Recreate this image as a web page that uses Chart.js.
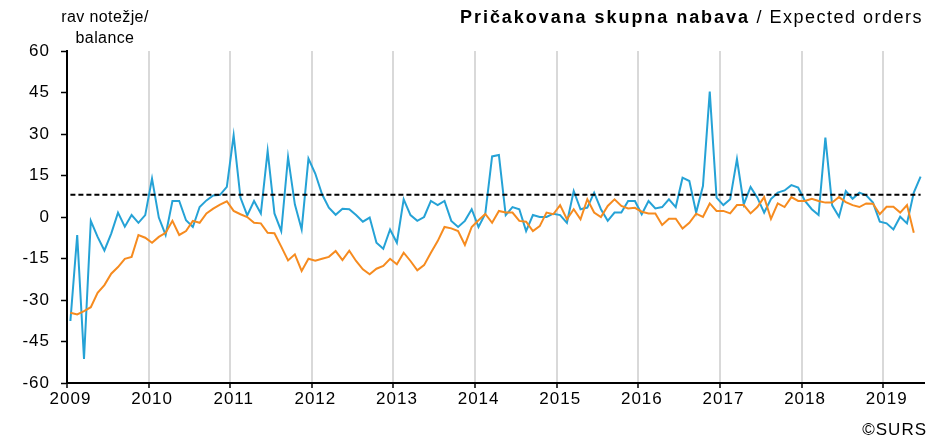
<!DOCTYPE html>
<html>
<head>
<meta charset="utf-8">
<script src="https://cdn.jsdelivr.net/npm/chart.js@4/dist/chart.umd.min.js"></script>
<style>
html,body{margin:0;padding:0;background:#fff;}
#wrap{position:relative;width:944px;height:442px;font-family:"Liberation Sans",Arial,sans-serif;color:#000;overflow:hidden;}
canvas{position:absolute;left:0;top:0;}
.t{position:absolute;white-space:nowrap;}
</style>
</head>
<body>
<div id="wrap">
<canvas id="c" width="944" height="442"></canvas>
<div class="t" id="ytitle" style="left:55px;top:6px;width:100px;text-align:center;font-size:16px;line-height:21px;letter-spacing:0.4px;">rav notežje/<br>balance</div>
<div class="t" id="title" style="right:21px;top:7px;font-size:18px;line-height:20px;letter-spacing:1.5px;"><b style="letter-spacing:1.95px;">Pričakovana skupna nabava</b> / Expected orders</div>
<div class="t" id="copy" style="right:17px;top:420px;font-size:17px;line-height:20px;letter-spacing:1px;">©SURS</div>
</div>
<script>
// x-axis tick labels (one per year, monthly data Jan 2009 – Jun 2019)
const yearLabels = ['2009','2010','2011','2012','2013','2014','2015','2016','2017','2018','2019'];
// y-axis tick values
const yTickValues = [60, 45, 30, 15, 0, -15, -30, -45, -60];
// Expected orders, original series (Jan 2009 – Jun 2019)
const expectedOrders = [
  -37.6, -6.5, -51.3, -1.4, -7.2, -12.1, -6.0, 1.6, -3.5, 0.7, -2.1, 0.7,
  13.9, -0.2, -6.5, 5.8, 5.8, -1.2, -3.6, 3.6, 6.0, 7.8, 8.0, 10.9,
  29.5, 7.0, 0.6, 5.8, 1.3, 23.9, 1.3, -5.1, 21.7, 4.6, -4.5, 21.1,
  15.7, 8.2, 3.4, 0.8, 3.0, 2.8, 0.7, -1.7, -0.2, -9.3, -11.5, -4.5,
  -9.3, 6.4, 0.7, -1.4, 0.0, 5.8, 4.3, 5.8, -1.4, -3.6, -1.4, 2.8,
  -3.6, 1.2, 21.9, 22.4, 0.7, 3.6, 2.8, -5.1, 0.7, 0.0, 0.0, 1.2,
  0.7, -2.1, 9.4, 2.8, 3.4, 8.8, 2.8, -1.4, 1.6, 1.6, 5.8, 5.8,
  1.0, 5.8, 3.1, 3.6, 6.4, 3.6, 14.2, 13.0, 1.6, 11.2, 45.3, 7.0,
  4.3, 6.4, 20.9, 4.6, 10.9, 7.0, 1.6, 6.5, 8.8, 9.6, 11.5, 10.6,
  5.8, 2.8, 0.7, 28.7, 4.2, 0.1, 9.4, 6.6, 8.8, 7.8, 5.2, -1.7,
  -2.3, -4.5, 0.1, -2.3, 8.8, 14.6
];
// Expected orders, seasonally adjusted series (Jan 2009 – May 2019)
const expectedOrdersSA = [
  -34.6, -35.2, -34.0, -32.6, -27.4, -24.6, -20.5, -18.1, -15.1, -14.4, -6.5, -7.5,
  -9.3, -7.2, -5.7, -1.4, -6.5, -5.1, -1.4, -2.1, 1.3, 3.0, 4.5, 5.7,
  2.2, 1.0, 0.0, -2.1, -2.3, -5.7, -5.9, -10.7, -15.7, -13.5, -19.5, -15.1,
  -15.8, -15.1, -14.4, -12.3, -15.6, -12.2, -15.9, -18.9, -20.7, -18.7, -17.7, -15.1,
  -17.1, -12.9, -15.9, -19.3, -17.4, -12.9, -8.7, -3.6, -4.1, -5.1, -10.1, -3.6,
  -1.2, 1.1, -2.1, 2.2, 1.6, 1.6, -1.4, -1.7, -5.1, -3.3, 1.6, 1.0,
  4.3, -0.8, 2.8, -0.8, 6.4, 1.6, 0.0, 4.0, 6.4, 4.0, 3.1, 3.3,
  1.9, 1.3, 1.3, -2.9, -0.6, -0.6, -4.2, -2.1, 1.2, 0.0, 4.9, 2.2,
  2.2, 1.3, 4.3, 4.3, 1.3, 3.6, 7.2, -0.7, 4.9, 3.6, 7.2, 5.8,
  5.8, 6.6, 5.8, 5.2, 5.2, 7.2, 5.4, 4.3, 3.6, 4.9, 4.8, 1.0,
  3.7, 3.7, 1.6, 4.3, -5.7
];
// Long-term average
const longTermAverage = 8.0;

const MONTHS_PER_YEAR = 12;
const FONT = '"Liberation Sans", Arial, sans-serif';
const toPoints = (arr) => arr.map((v, i) => ({ x: i + 0.5, y: v }));

Chart.defaults.font.family = FONT;
Chart.defaults.font.size = 17;
Chart.defaults.color = '#000';

const spacingPlugin = {
  id: 'spacing',
  beforeDraw(chart) { chart.ctx.letterSpacing = '1px'; }
};

new Chart(document.getElementById('c'), {
  type: 'line',
  data: {
    datasets: [
      {
        data: toPoints(expectedOrders.map(() => longTermAverage)),
        borderColor: '#000',
        borderWidth: 2,
        borderDash: [5, 3],
        pointRadius: 0,
        fill: false
      },
      {
        data: toPoints(expectedOrdersSA),
        borderColor: '#F68B1F',
        borderWidth: 2,
        pointRadius: 0,
        tension: 0,
        fill: false
      },
      {
        data: toPoints(expectedOrders),
        borderColor: '#25A2D6',
        borderWidth: 2,
        pointRadius: 0,
        tension: 0,
        fill: false
      }
    ]
  },
  options: {
    responsive: false,
    devicePixelRatio: 1,
    animation: false,
    layout: { padding: { top: 51, right: 20, left: 0, bottom: 0 } },
    plugins: { legend: { display: false }, tooltip: { enabled: false } },
    scales: {
      x: {
        type: 'linear',
        min: 0,
        max: expectedOrders.length,
        afterBuildTicks: (s) => { s.ticks = yearLabels.map((_, k) => ({ value: k * MONTHS_PER_YEAR })); },
        afterFit: (s) => { s.height = 59; },
        ticks: {
          autoSkip: false,
          maxRotation: 0,
          padding: 1,
          labelOffset: 3.5,
          font: { size: 17 },
          callback: (v, idx) => yearLabels[idx]
        },
        grid: {
          color: (ctx) => ctx.index === 0 ? 'rgba(0,0,0,0)' : '#D9D9D9',
          lineWidth: 2,
          tickColor: '#000',
          tickWidth: 1.5,
          tickLength: 5,
          drawOnChartArea: true
        },
        border: { color: '#000', width: 2 }
      },
      y: {
        min: -60,
        max: 60,
        afterBuildTicks: (s) => { s.ticks = yTickValues.map((v) => ({ value: v })); },
        afterFit: (s) => { s.width = 67; },
        ticks: {
          padding: 11,
          font: { size: 17 },
          callback: (v) => String(v)
        },
        grid: {
          drawOnChartArea: false,
          tickColor: '#000',
          tickWidth: 1.5,
          tickLength: 6
        },
        border: { color: '#000', width: 2 }
      }
    }
  },
  plugins: [spacingPlugin]
});
</script>
</body>
</html>
